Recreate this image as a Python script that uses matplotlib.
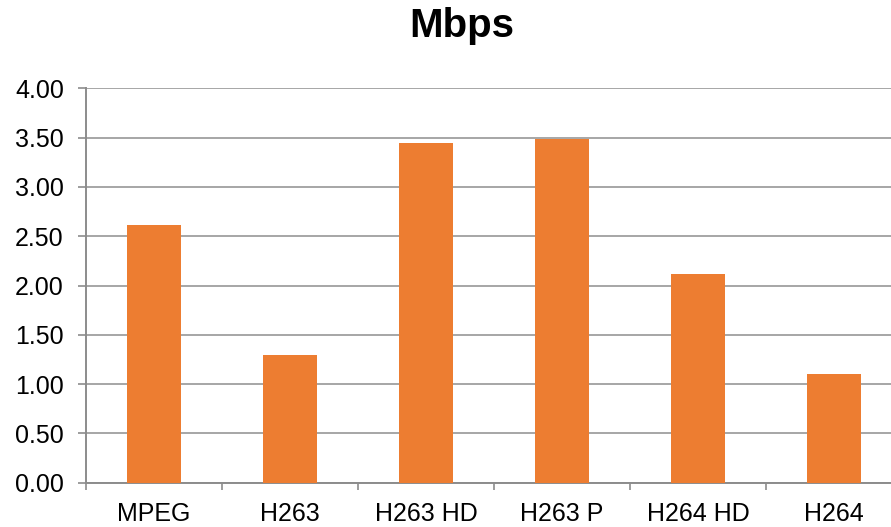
import matplotlib.pyplot as plt

# Data
codecs = ['MPEG', 'H263', 'H263 HD', 'H263 P', 'H264 HD', 'H264']
mbps = [2.61, 1.29, 3.45, 3.49, 2.12, 1.10]

plt.rcParams['font.family'] = ['Liberation Sans', 'DejaVu Sans']

fig = plt.figure(figsize=(8.91, 5.27), dpi=100)
# plot area runs past the right edge of the picture, as in the original
ax = fig.add_axes([86 / 891, 44.5 / 527, 816 / 891, 394 / 527])

x = list(range(len(codecs)))
ax.bar(x, mbps, width=0.4, color='#ED7D31', zorder=3)

ax.set_xlim(-0.5, len(codecs) - 0.5)
ax.set_ylim(0, 4)
ax.set_yticks([i * 0.5 for i in range(9)])
ax.set_yticklabels([f'{i * 0.5:.2f}' for i in range(9)])

# category labels centred under bars, tick marks at the category boundaries
ax.set_xticks(x)
ax.set_xticklabels(codecs)
ax.set_xticks([i - 0.5 for i in range(len(codecs) + 1)], minor=True)
ax.tick_params(axis='x', which='major', length=0, pad=14, labelsize=18)
ax.tick_params(axis='x', which='minor', length=5, width=1.2, color='#8c8c8c')
ax.tick_params(axis='y', length=6, width=1.2, color='#8c8c8c', pad=10, labelsize=18)

ax.grid(axis='y', color='#a6a6a6', linewidth=1.4, zorder=0)
for s in ['top', 'right']:
    ax.spines[s].set_visible(False)
for s in ['left', 'bottom']:
    ax.spines[s].set_color('#8c8c8c')
    ax.spines[s].set_linewidth(1.4)

fig.text(462 / 891, 1 - 37 / 527, 'Mbps', ha='center', va='baseline',
         fontsize=29, fontweight='bold')

fig.savefig('out.png', dpi=100)
